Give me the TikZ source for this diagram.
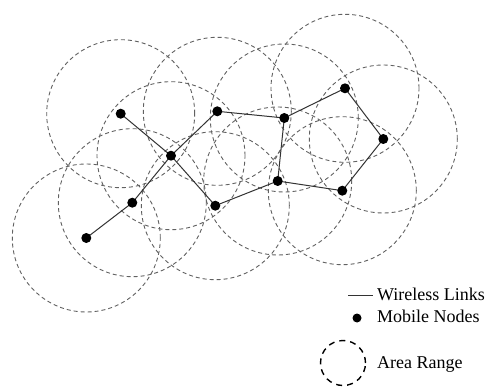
\documentclass[tikz,border=0pt]{standalone}
\usepackage{fontspec}
\setmainfont{Liberation Serif}
\begin{document}
\begin{tikzpicture}[x=1pt,y=-1pt,
  arearange/.style={draw=black!62, line width=0.9pt, dash pattern=on 4pt off 3pt},
  link/.style={draw=black!80, line width=1pt},
  dot/.style={circle, fill=black, inner sep=0pt, minimum size=10pt},
  legrange/.style={draw=black, line width=1.4pt, dash pattern=on 6pt off 5pt},
  legtext/.style={anchor=base west, inner sep=0pt, font=\fontsize{18}{20}\selectfont}]
\useasboundingbox (0,0) rectangle (489,387);
\fill[white] (0,0) rectangle (489,387);
% node positions
\coordinate (pA) at (120.7,113.7);
\coordinate (pB) at (217.3,111.3);
\coordinate (pC) at (284.3,118);
\coordinate (pD) at (345,88.3);
\coordinate (pE) at (383.3,139);
\coordinate (pF) at (171,155.7);
\coordinate (pG) at (277.7,181);
\coordinate (pH) at (342.3,190.7);
\coordinate (pI) at (132.3,202.7);
\coordinate (pJ) at (215.3,205.7);
\coordinate (pK) at (86.3,238);
% area ranges
\foreach \p in {pA,pB,pC,pD,pE,pF,pG,pH,pI,pJ,pK}
  \draw[arearange] (\p) circle (74pt);
% links
\draw[link] (pK) -- (pI) -- (pF) -- (pB) -- (pC) -- (pD) -- (pE) -- (pH) -- (pG) -- (pJ) -- (pF) -- (pA);
\draw[link] (pC) -- (pG);
% mobile nodes
\foreach \p/\n in {pA/A,pB/B,pC/C,pD/D,pE/E,pF/F,pG/G,pH/H,pI/I,pJ/J,pK/K}
  \node[dot] (\n) at (\p) {};
% legend
\coordinate (l1) at (348,295);
\coordinate (l2) at (373,295);
\draw[link] (l1) -- (l2);
\node[legtext] (t1) at (377,300) {Wireless Links};
\node[dot, minimum size=9pt] (ld) at (357,318) {};
\node[legtext] (t2) at (377,322.7) {Mobile Nodes};
\coordinate (lc) at (343,363);
\draw[legrange] (lc) circle (22.5pt);
\node[legtext] (t3) at (377,368) {Area Range};
\end{tikzpicture}
\end{document}
